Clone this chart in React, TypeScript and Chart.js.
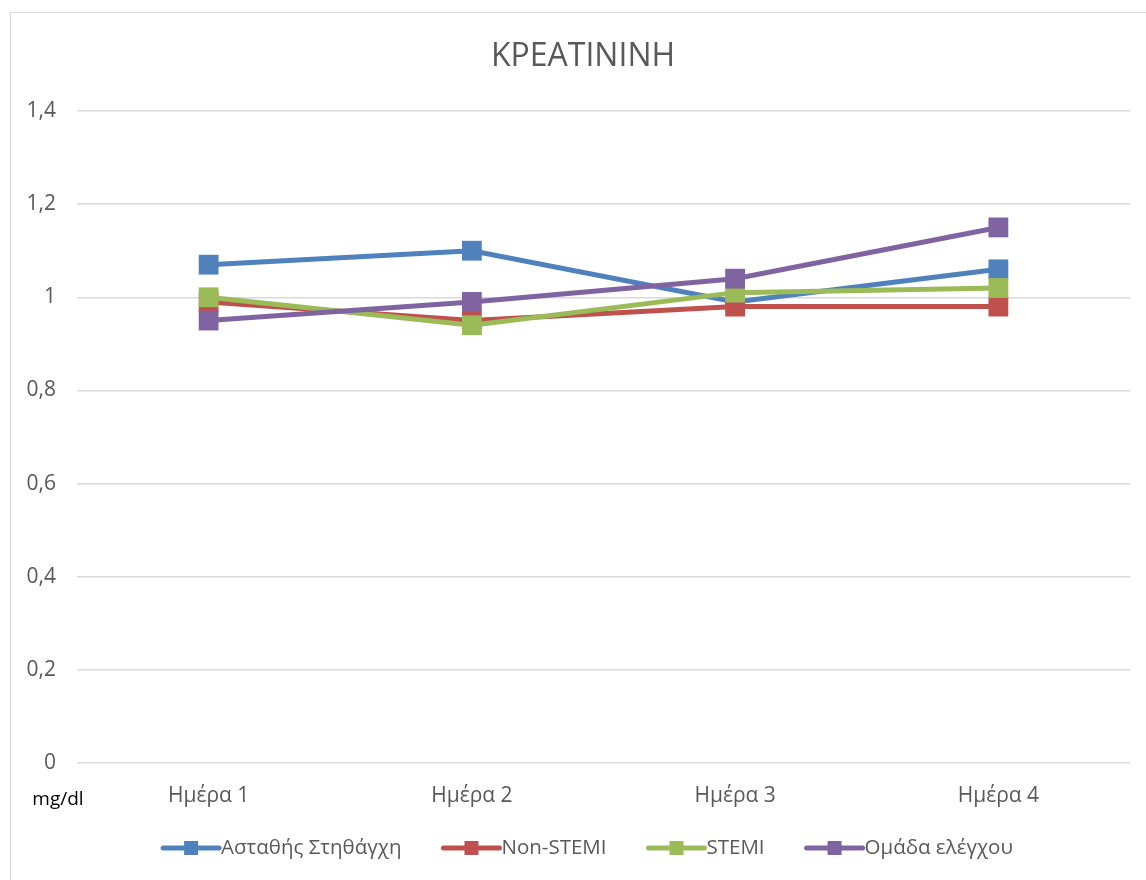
import React, { useEffect, useRef } from "react";
import { Chart, registerables } from "chart.js";

Chart.register(...registerables);

const title = "ΚΡΕΑΤΙΝΙΝΗ";
const unitLabel = "mg/dl";
const categories = ["Ημέρα 1", "Ημέρα 2", "Ημέρα 3", "Ημέρα 4"];
const seriesNames = ["Ασταθής Στηθάγχη", "Non-STEMI", "STEMI", "Ομάδα ελέγχου"];
const unstableAngina = [1.07, 1.1, 0.99, 1.06];
const nonStemi = [0.99, 0.95, 0.98, 0.98];
const stemi = [1.0, 0.94, 1.01, 1.02];
const controlGroup = [0.95, 0.99, 1.04, 1.15];
const seriesColors = ["#4F81BD", "#C0504D", "#9BBB59", "#8064A2"];
const yMin = 0;
const yMax = 1.4;
const yStep = 0.2;

const FONT = "'Open Sans', 'Noto Sans', sans-serif";

export default function App() {
  const ref = useRef<HTMLCanvasElement | null>(null);

  useEffect(() => {
    const canvas = ref.current;
    if (!canvas) return;
    const values = [unstableAngina, nonStemi, stemi, controlGroup];

    const decor = {
      id: "decor",
      beforeDraw(chart: any) {
        const ctx = chart.ctx;
        ctx.save();
        ctx.fillStyle = "#ffffff";
        ctx.fillRect(0, 0, chart.width, chart.height);
        ctx.strokeStyle = "#d9d9d9";
        ctx.lineWidth = 1;
        ctx.strokeRect(10.5, 12.5, 1400, 1400);
        ctx.restore();
      },
      afterDraw(chart: any) {
        const ctx = chart.ctx;
        ctx.save();
        // title
        ctx.fillStyle = "#595959";
        ctx.font = `32px ${FONT}`;
        ctx.textAlign = "center";
        ctx.textBaseline = "middle";
        ctx.fillText(title, 583, 57);
        // unit
        ctx.fillStyle = "#000000";
        ctx.font = `19px ${FONT}`;
        ctx.textAlign = "center";
        ctx.fillText(unitLabel, 58, 800);
        // legend
        ctx.font = `20.5px ${FONT}`;
        ctx.textAlign = "left";
        const lineW = 56;
        const gap = 42;
        const widths = seriesNames.map((n) => ctx.measureText(n).width);
        const total = widths.reduce((a, w) => a + lineW + 2 + w, 0) + gap * (seriesNames.length - 1);
        let x = 588 - total / 2;
        const y = 848;
        seriesNames.forEach((n, i) => {
          ctx.strokeStyle = seriesColors[i];
          ctx.lineWidth = 5;
          ctx.lineCap = "round";
          ctx.beginPath();
          ctx.moveTo(x, y);
          ctx.lineTo(x + lineW, y);
          ctx.stroke();
          ctx.fillStyle = seriesColors[i];
          ctx.fillRect(x + lineW / 2 - 7, y - 7, 14, 14);
          ctx.fillStyle = "#595959";
          ctx.fillText(n, x + lineW + 2, y);
          x += lineW + 2 + widths[i] + gap;
        });
        ctx.restore();
      },
    };

    const chart = new Chart(canvas, {
      type: "line",
      data: {
        labels: categories,
        datasets: values.map((v, i) => ({
          label: seriesNames[i],
          data: v,
          order: values.length - i,
          borderColor: seriesColors[i],
          backgroundColor: seriesColors[i],
          borderWidth: 5,
          pointStyle: "rect",
          pointRadius: 14,
          pointHoverRadius: 14,
          pointBorderWidth: 0,
          tension: 0,
          fill: false,
        })),
      },
      options: {
        animation: false,
        responsive: false,
        devicePixelRatio: 1,
        layout: { padding: { left: 10, right: 16, top: 111, bottom: 0 } },
        plugins: {
          legend: { display: false },
          title: { display: false },
          tooltip: { enabled: false },
        },
        scales: {
          x: {
            offset: true,
            grid: { display: false, drawTicks: false },
            border: { display: false },
            ticks: {
              color: "#595959",
              font: { family: FONT, size: 21 },
              padding: 20,
            },
            afterFit(scale: any) {
              scale.height = 117;
            },
          },
          y: {
            min: yMin,
            max: yMax,
            grid: { color: "#d9d9d9", lineWidth: 1.5, drawTicks: false },
            border: { display: false },
            ticks: {
              stepSize: yStep,
              color: "#595959",
              font: { family: FONT, size: 21 },
              padding: 21,
              callback: (v: any) => {
                const n = Math.round(Number(v) * 10) / 10;
                return String(n).replace(".", ",");
              },
            },
            afterFit(scale: any) {
              scale.width = 67;
            },
          },
        },
      },
      plugins: [decor],
    });
    return () => chart.destroy();
  }, []);

  return (
    <div style={{ position: "fixed", left: 0, top: 0, width: 1146, height: 880 }}>
      <canvas ref={ref} width={1146} height={880} style={{ width: 1146, height: 880, display: "block" }} />
    </div>
  );
}
